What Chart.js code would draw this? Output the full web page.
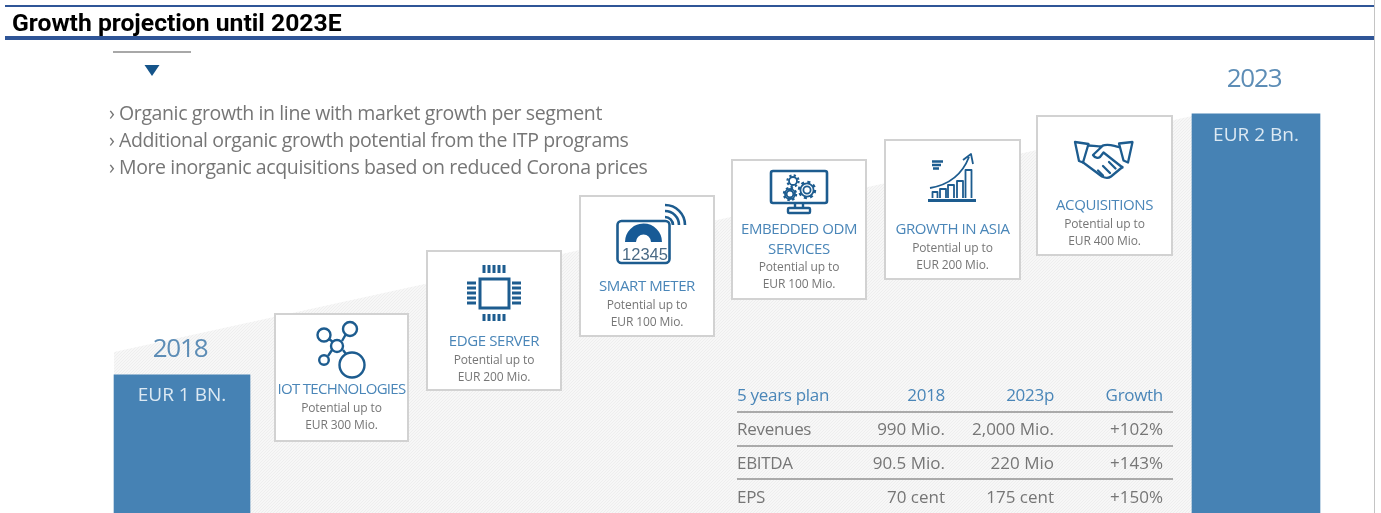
<!DOCTYPE html>
<html><head><meta charset="utf-8">
<script src="https://cdn.jsdelivr.net/npm/chart.js@4"></script>
<style>
html,body{margin:0;padding:0;background:#fff;width:1381px;height:513px;overflow:hidden}
#wrap{position:absolute;left:0;top:0;width:1381px;height:513px}
#soft{position:absolute;left:0;top:0;width:1381px;height:513px;filter:blur(.5px)}
canvas{position:absolute;left:0;top:0}
.t{position:absolute;white-space:nowrap;transform:translateY(-50%);font-family:"Open Sans",sans-serif;line-height:1}
.card{position:absolute;background:#fff;border:2px solid #d2d2d2;box-sizing:border-box}
.rule{position:absolute;background:#a9a9a9}
svg{position:absolute;left:0;top:0}
</style></head><body>
<div id="wrap">
 <div id="soft">
  <canvas id="c" width="1381" height="513"></canvas>
  <div id="overlay"></div>
  <svg id="icons" width="1381" height="513" fill="none" stroke="#1d5c8f" stroke-width="2.4">
   <!-- IoT -->
   <circle cx="352" cy="365" r="12.5"/><circle cx="350" cy="329" r="7"/><circle cx="324" cy="335" r="6.5"/><circle cx="337" cy="346" r="6"/><circle cx="324" cy="360" r="4.8"/>
   <path d="M329 339L333 342M342 341L346 334M343 350L346 354M332 350L328 356"/>
   <!-- chip -->
   <rect x="480" y="279" width="29" height="29" stroke-width="3"/>
   <path stroke-width="3" d="M484 265v8M489 265v8M494 265v8M499 265v8M504 265v8M484 314v7M489 314v7M494 314v7M499 314v7M504 314v7M467 283h9M467 288h9M467 293h9M467 298h9M467 303h9M512 283h9M512 288h9M512 293h9M512 298h9M512 303h9"/>
   <!-- meter -->
   <rect x="617.5" y="221" width="52" height="42" rx="4" stroke-width="2.6"/>
   <path d="M630.500 242a13 13 0 0 1 26 0" stroke-width="11" stroke="#175a96"/>
   <path d="M665 217a8 8 0 0 1 8 8M665 211a14 14 0 0 1 14 14M665 205a20 20 0 0 1 20 20" stroke-width="2.6"/>
   <text x="645" y="260" font-family="Liberation Sans" font-size="16.5" fill="#4a6a85" stroke="none" text-anchor="middle">12345</text>
   <!-- monitor -->
   <rect x="771" y="171" width="56" height="32" rx="2" stroke-width="2.6"/>
   <path d="M795 203v5M803 203v5"/><rect x="788" y="208" width="22" height="5" rx="1"/>
   <g stroke-width="1.8">
    <circle cx="793" cy="181" r="4"/><circle cx="793" cy="181" r="5.6" stroke-width="2.2" stroke-dasharray="2.2 2.2"/>
    <circle cx="790" cy="194" r="3.4" fill="#fff"/><circle cx="790" cy="194" r="6" stroke-width="2.4" stroke-dasharray="2.4 2.3"/><circle cx="790" cy="194" r="5" />
    <circle cx="807" cy="190" r="3.6" fill="#fff"/><circle cx="807" cy="190" r="8" stroke-width="2.4" stroke-dasharray="3 3.3"/><circle cx="807" cy="190" r="6.6"/>
   </g>
   <!-- growth -->
   <path d="M928 200.5h48" stroke-width="3"/>
   <g stroke-width="1.8" stroke-linejoin="round">
    <path d="M932.5 198v-6h5v6M940 198v-9h6v9M948 198v-13h6v13M957 198v-17h6v17M965.5 198v-28h6v28"/>
    <path d="M930 188C948 185 962 175 969 157M963 160L971 154L973 164"/>
   </g>
   <path stroke-width="2.6" d="M932 161.5h11M932 165h9M933 168.5h6"/>
   <!-- handshake -->
   <g stroke-width="2.3" stroke-linejoin="round" stroke-linecap="round">
    <path d="M1075 142l13.5 2-5.5 18.5-4 -1.5zM1132.5 142l-13.5 1.5 4.5 17 4.5 2z"/>
    <path d="M1088 145.5c5 0 10 1.5 14 0.5M1102 146c6-3 11 0 17 1M1103 145.5l-10 9.5c2 3 5 3.5 7 2l3.5-4.5 19 15M1082.500 162l19.500 14.500c3 1.500 7 1.500 9 0l11.500-9.500"/>
    <path d="M1098 170.500l5 5M1103 166l7 7M1109 162l6.500 6.500"/>
   </g>
   <!-- small triangle -->
   <path d="M144.500 65h15l-7.500 11z" fill="#15548a" stroke="none"/>
  </svg>
 </div>
 <div id="head"></div>
</div>
<script>
// ---- data ----
const barCategories = ['2018','IoT Technologies','Edge Server','Smart Meter','Embedded ODM Services','Growth in Asia','Acquisitions','2023'];
const startValues = [1000,null,null,null,null,null,null,null];
const endValues   = [null,null,null,null,null,null,null,2000];
const barTexts = ['EUR 1 BN.','EUR 2 Bn.'];
const trendPositions = [-0.443,6.584];
const trendValues = [1088,1992];
const cardTitles = [['IOT TECHNOLOGIES'],['EDGE SERVER'],['SMART METER'],['EMBEDDED ODM','SERVICES'],['GROWTH IN ASIA'],['ACQUISITIONS']];
const cardPotentials = ['EUR 300 Mio.','EUR 200 Mio.','EUR 100 Mio.','EUR 100 Mio.','EUR 200 Mio.','EUR 400 Mio.'];
const bullets = ['Organic growth in line with market growth per segment','Additional organic growth potential from the ITP programs','More inorganic acquisitions based on reduced Corona prices'];
const tableHeader = ['5 years plan','2018','2023p','Growth'];
const tableMetrics = ['Revenues','EBITDA','EPS'];
const table2018 = ['990 Mio.','90.5 Mio.','70 cent'];
const table2023 = ['2,000 Mio.','220 Mio','175 cent'];
const tableGrowth = ['+102%','+143%','+150%'];

// ---- layout ----
const cardBoxes = [[274,313,135,129,388],[426,250,136,141,340],[579,195,136,142,285],[731,159,136,141,228],[884,139,137,141,228],[1036,115,137,141,204]];
const BLUE='#4a86b8', GREY='#767676';
const ov=document.getElementById('overlay');
function txt(parent,x,y,s,size,color,align,extra){
  const d=document.createElement('div');d.className='t';d.textContent=s;
  d.style.fontSize=size+'px';d.style.color=color;d.style.top=y+'px';
  if(align==='c'){d.style.left=(x-300)+'px';d.style.width='600px';d.style.textAlign='center';}
  else if(align==='r'){d.style.left=(x-300)+'px';d.style.width='300px';d.style.textAlign='right';}
  else d.style.left=x+'px';
  if(extra)Object.assign(d.style,extra);
  parent.appendChild(d);return d;
}
function box(parent,cls,x,y,w,h,bg){const d=document.createElement('div');d.className=cls;
  Object.assign(d.style,{left:x+'px',top:y+'px',width:w+'px',height:h+'px'});if(bg)d.style.background=bg;parent.appendChild(d);}

// header
const head=document.getElementById('head');
box(head,'rule',5,5,1370,2,'#2f5597');
box(head,'rule',5,36,1370,4,'#2f5597');
box(head,'rule',1374,0,1,513,'#c4c4c4');
txt(head,12,23,'Growth projection until 2023E',24.7,'#000','l',{fontFamily:'Roboto',fontWeight:'700'});

// intro
box(ov,'rule',113,51,78,2,'#a8a8a8');
bullets.forEach((b,i)=>{ txt(ov,109,113+i*27,'›',19.5,GREY,'l'); txt(ov,119,113+i*27,b,19.5,GREY,'l',{letterSpacing:'-.38px'}); });

// cards
cardBoxes.forEach((c,i)=>{
  box(ov,'card',c[0],c[1],c[2],c[3]);
  const cx=c[0]+c[2]/2; let y=c[4];
  cardTitles[i].forEach((t,k)=>{ txt(ov,cx,y,t,15,BLUE,'c',{letterSpacing:i===0?'-.7px':'-.4px'}); y+=20; });
  y=y-20+ (cardTitles[i].length>1?18.5:19.5);
  txt(ov,cx,y,'Potential up to',12,GREY,'c',{letterSpacing:'-.1px'});
  txt(ov,cx,y+17,cardPotentials[i],12,GREY,'c',{letterSpacing:'-.1px'});
});

// table
const colsR=[945,1054,1163];
const TS={letterSpacing:'-.3px'};
const NS={letterSpacing:'0px'};
txt(ov,737,393.5,tableHeader[0],17,BLUE,'l',TS);
tableHeader.slice(1).forEach((h,i)=>txt(ov,colsR[i],393.5,h,17,BLUE,'r',TS));
[412,445.5,479].forEach(y=>box(ov,'rule',737,y-1,436,2,'#aaaaaa'));
tableMetrics.forEach((m,i)=>{
  const y=428+i*34;
  txt(ov,737,y,m,17,GREY,'l',TS);
  txt(ov,colsR[0],y,table2018[i],17,GREY,'r',NS);
  txt(ov,colsR[1],y,table2023[i],17,GREY,'r',NS);
  txt(ov,colsR[2],y,tableGrowth[i],17,GREY,'r',NS);
});

// hatch
function hatch(ctx){
  const p=document.createElement('canvas');p.width=p.height=3;
  const g=p.getContext('2d');g.fillStyle='#f7f7f7';g.fillRect(0,0,3,3);
  g.fillStyle='#eeeeee';[[0,2],[1,1],[2,0]].forEach(a=>g.fillRect(a[0],a[1],1,1));
  return ctx.createPattern(p,'repeat');
}
const labelsPlugin={id:'barLabels',afterDatasetsDraw(chart){
  const ctx=chart.ctx;ctx.save();ctx.textAlign='center';ctx.textBaseline='middle';
  [[1,0,25,21],[2,7,34,22]].forEach((s,i)=>{
    const el=chart.getDatasetMeta(s[0]).data[s[1]];
    ctx.font='26px "Open Sans"';ctx.letterSpacing='-1.2px';ctx.fillStyle='#5d8db6';
    ctx.fillText(barCategories[s[1]],el.x-2,el.y-s[2]);
    ctx.font='19px "Open Sans"';ctx.letterSpacing='0px';ctx.fillStyle='#dce9f3';
    ctx.fillText(barTexts[i],el.x,el.y+s[3]);
  });
  ctx.restore();
}};
const c=document.getElementById('c');const ctx=c.getContext('2d');
new Chart(ctx,{
  data:{labels:barCategories,datasets:[
    {type:'line',label:'Growth path',order:5,xAxisID:'x2',data:trendPositions.map((x,i)=>({x,y:trendValues[i]})),
     backgroundColor:hatch(ctx),borderWidth:0,pointRadius:0,fill:'start',tension:0},
    {type:'bar',label:'2018',order:1,data:startValues,backgroundColor:'#4682b4',barThickness:136},
    {type:'bar',label:'2023',order:1,data:endValues,backgroundColor:'#4682b4',barThickness:128}
  ]},
  options:{responsive:false,animation:false,
    layout:{padding:{left:105.3,right:48.3,top:45,bottom:0}},
    datasets:{bar:{grouped:false}},
    plugins:{legend:{display:false},tooltip:{enabled:false},title:{display:false}},
    scales:{
      x:{display:false,grid:{display:false}},
      x2:{type:'linear',display:false,min:-0.5,max:7.5},
      y:{display:false,min:471,max:2264,grid:{display:false}}
    }},
  plugins:[labelsPlugin]
});
</script>
</body></html>
